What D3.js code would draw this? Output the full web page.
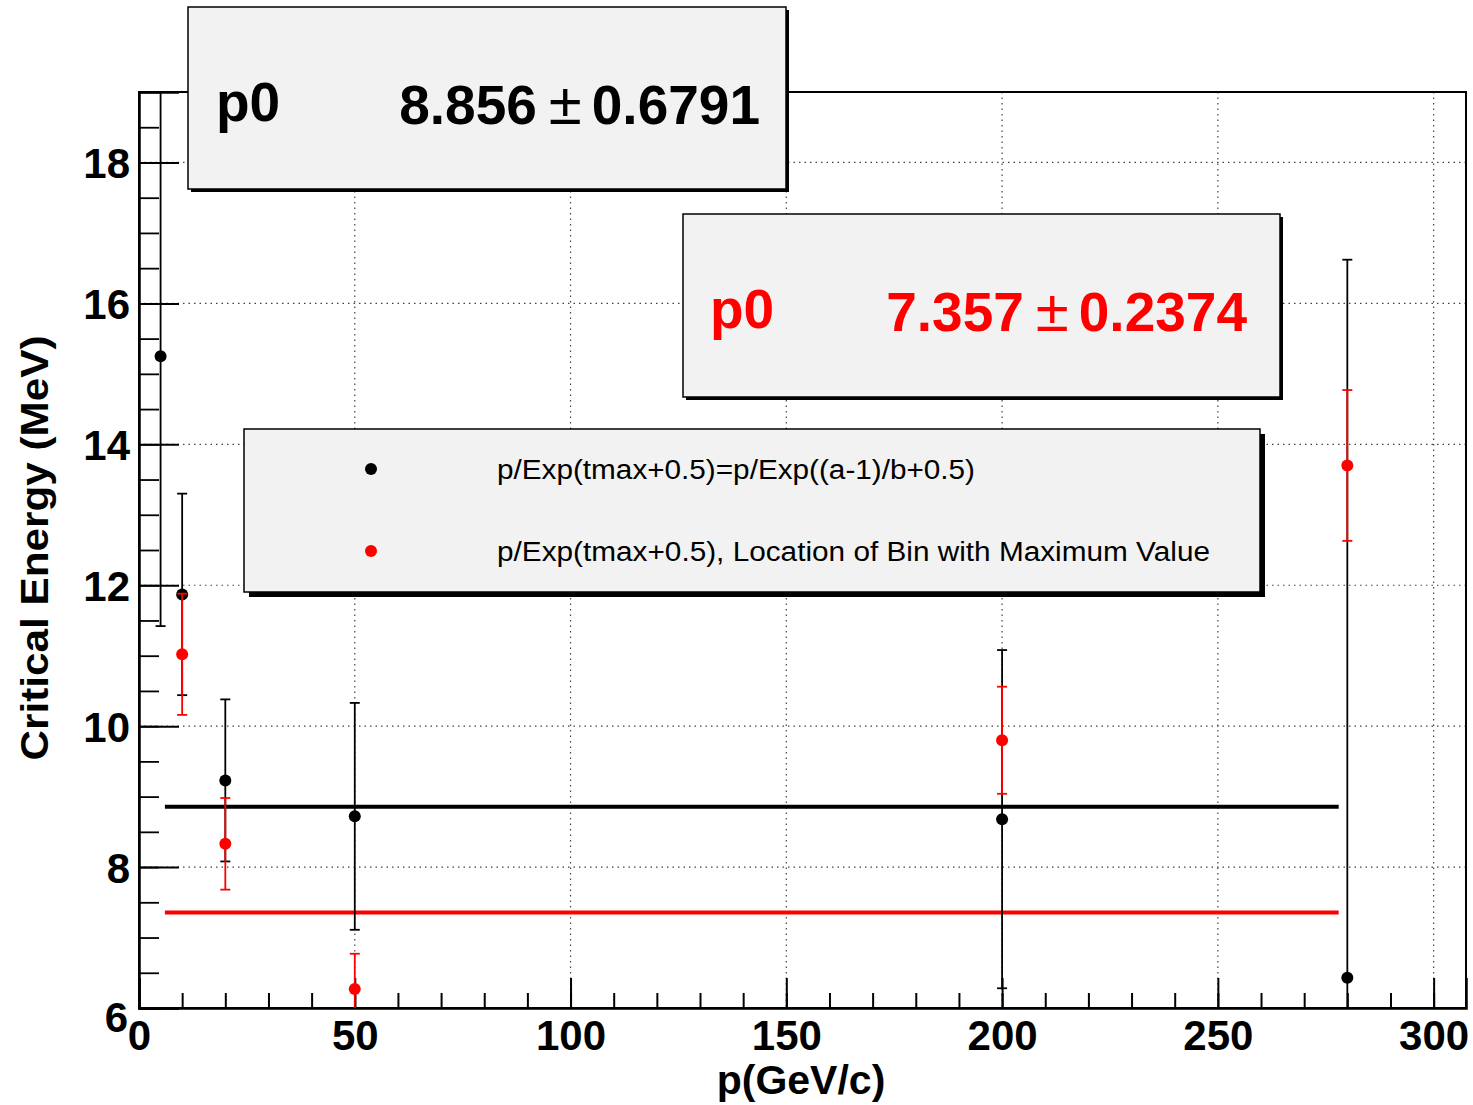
<!DOCTYPE html>
<html><head><meta charset="utf-8">
<script src="https://cdn.jsdelivr.net/npm/d3@7"></script>
<style>
body{margin:0;background:#fff;}
svg{display:block;}
</style></head>
<body>
<script>
// ---- data ----
const blackX   = [5, 10, 20, 50, 200, 280];
const blackY   = [15.25, 11.87, 9.23, 8.72, 8.68, 6.43];
const blackErr = [3.83, 1.43, 1.15, 1.61, 2.40, 10.19];
const redX     = [10, 20, 50, 200, 280];
const redY     = [11.02, 8.33, 6.27, 9.80, 13.70];
const redErr   = [0.86, 0.65, 0.50, 0.76, 1.07];
const fitBlack = 8.856, fitBlackErr = 0.6791;
const fitRed   = 7.357, fitRedErr = 0.2374;
const fitRange = [6, 278];
const xMajorTicks = [0, 50, 100, 150, 200, 250, 300];
const yMajorTicks = [6, 8, 10, 12, 14, 16, 18];
const legendLabels = ["p/Exp(tmax+0.5)=p/Exp((a-1)/b+0.5)",
                      "p/Exp(tmax+0.5), Location of Bin with Maximum Value"];
const xTitle = "p(GeV/c)";
const yTitle = "Critical Energy (MeV)";

const W = 1473, H = 1105;
const F = {l:139, r:1466, t:92, b:1008};
const x = d3.scaleLinear().domain([0, 307.5]).range([F.l, F.r]);
const y = d3.scaleLinear().domain([6, 19]).range([F.b, F.t]);

const svg = d3.select("body").append("svg").attr("width", W).attr("height", H)
  .style("font-family", "'Liberation Sans', Arial, Helvetica, sans-serif");

svg.append("defs").append("clipPath").attr("id","frame")
  .append("rect").attr("x",F.l).attr("y",F.t).attr("width",F.r-F.l).attr("height",F.b-F.t);

// grid
const grid = svg.append("g").attr("stroke","#444").attr("stroke-width",1.2).attr("stroke-dasharray","1.5,4");
grid.selectAll(".gx").data(xMajorTicks.filter(d=>d>0)).join("line")
  .attr("x1",d=>x(d)).attr("x2",d=>x(d)).attr("y1",F.t).attr("y2",F.b);
grid.selectAll(".gy").data(yMajorTicks.filter(d=>d>6)).join("line")
  .attr("y1",d=>y(d)).attr("y2",d=>y(d)).attr("x1",F.l).attr("x2",F.r);

// frame
svg.append("rect").attr("x",F.l).attr("y",F.t).attr("width",F.r-F.l).attr("height",F.b-F.t)
  .attr("fill","none").attr("stroke","#000").attr("stroke-width",2);

// axes
const xMinor = d3.range(0, 307.5, 10);
const yMinor = d3.range(6, 19.01, 0.5);
svg.append("g").attr("transform",`translate(0,${F.b})`)
  .call(d3.axisBottom(x).tickValues(xMinor).tickSize(-15).tickFormat(""))
  .call(g=>g.select(".domain").remove())
  .selectAll("line").attr("stroke-width",2);
const xa = svg.append("g").attr("transform",`translate(0,${F.b})`)
  .call(d3.axisBottom(x).tickValues(xMajorTicks).tickSize(-30).tickPadding(12).tickFormat(d3.format("d")));
xa.select(".domain").attr("stroke-width",2.5);
xa.selectAll("line").attr("stroke-width",2);
xa.selectAll("text").attr("font-size",42).attr("font-weight","bold").attr("fill","#000")
  .attr("font-family","'Liberation Sans', Arial, sans-serif");

svg.append("g").attr("transform",`translate(${F.l},0)`)
  .call(d3.axisLeft(y).tickValues(yMinor).tickSize(-20).tickFormat(""))
  .call(g=>g.select(".domain").remove())
  .selectAll("line").attr("stroke-width",1.8);
const ya = svg.append("g").attr("transform",`translate(${F.l},0)`)
  .call(d3.axisLeft(y).tickValues(yMajorTicks).tickSize(-40).tickPadding(9).tickFormat(d3.format("d")));
ya.select(".domain").attr("stroke-width",2.5);
ya.selectAll("line").attr("stroke-width",2);
ya.selectAll("text").attr("font-size",42).attr("font-weight","bold").attr("fill","#000")
  .attr("font-family","'Liberation Sans', Arial, sans-serif")
  .attr("dy", d => d===6 ? "0.55em" : "0.36em").attr("x", d => d===6 ? -11 : -9);

// titles
svg.append("text").attr("x",801).attr("y",1094).attr("text-anchor","middle")
  .attr("font-size",41).attr("font-weight","bold").text(xTitle);
svg.append("text").attr("transform","translate(48,548) rotate(-90)").attr("text-anchor","middle")
  .attr("font-size",39).attr("font-weight","bold").attr("textLength",425).attr("lengthAdjust","spacingAndGlyphs").text(yTitle);

// data layer (clipped)
const plot = svg.append("g").attr("clip-path","url(#frame)");

// fit lines
plot.append("line").attr("x1",x(fitRange[0])).attr("x2",x(fitRange[1]))
  .attr("y1",y(fitBlack)).attr("y2",y(fitBlack)).attr("stroke","#000").attr("stroke-width",4);
plot.append("line").attr("x1",x(fitRange[0])).attr("x2",x(fitRange[1]))
  .attr("y1",y(fitRed)).attr("y2",y(fitRed)).attr("stroke","#ff0000").attr("stroke-width",4);

function drawSeries(xs, ys, es, color, r){
  const d = xs.map((v,i)=>({x:v,y:ys[i],e:es[i]}));
  const g = plot.append("g").attr("stroke",color).attr("stroke-width",1.8);
  g.selectAll(".bar").data(d).join("line")
    .attr("x1",p=>x(p.x)).attr("x2",p=>x(p.x)).attr("y1",p=>y(p.y+p.e)).attr("y2",p=>y(p.y-p.e));
  g.selectAll(".capT").data(d).join("line")
    .attr("x1",p=>x(p.x)-5).attr("x2",p=>x(p.x)+5).attr("y1",p=>y(p.y+p.e)).attr("y2",p=>y(p.y+p.e));
  g.selectAll(".capB").data(d).join("line")
    .attr("x1",p=>x(p.x)-5).attr("x2",p=>x(p.x)+5).attr("y1",p=>y(p.y-p.e)).attr("y2",p=>y(p.y-p.e));
  plot.append("g").selectAll("circle").data(d).join("circle")
    .attr("cx",p=>x(p.x)).attr("cy",p=>y(p.y)).attr("r",r).attr("fill",color);
}
drawSeries(blackX, blackY, blackErr, "#000", 6);
drawSeries(redX, redY, redErr, "#ff0000", 6);

// boxes
function pave(x1,y1,x2,y2,sh){
  svg.append("rect").attr("x",x1+sh).attr("y",y1+sh).attr("width",x2-x1).attr("height",y2-y1).attr("fill","#000");
  svg.append("rect").attr("x",x1).attr("y",y1).attr("width",x2-x1).attr("height",y2-y1)
    .attr("fill","#f2f2f2").attr("stroke","#000").attr("stroke-width",1.5);
}
function statText(xL, xR, yB, val, err, color){
  svg.append("text").attr("x",xL).attr("y",yB-3).attr("font-size",55).attr("font-weight","bold")
    .attr("fill",color).text("p0");
  const t = svg.append("text").attr("x",xR).attr("y",yB).attr("font-size",55).attr("font-weight","bold")
    .attr("fill",color).attr("text-anchor","end");
  t.append("tspan").text(`${val}`);
  t.append("tspan").attr("font-weight","normal").attr("font-size",60).attr("dx",12).text("±");
  t.append("tspan").attr("dx",10).text(`${err}`);
}
pave(188,7,786,189,3);
statText(216, 760, 124, fitBlack, fitBlackErr, "#000");
pave(683,214,1280,397,3);
statText(710, 1247, 331, fitRed, fitRedErr, "#ff0000");

pave(244,429,1260,592,5);
const legColors = ["#000","#ff0000"];
const legY = [469, 551];
const legLen = [478, 713];
legendLabels.forEach((t,i)=>{
  svg.append("circle").attr("cx",371).attr("cy",legY[i]).attr("r",6).attr("fill",legColors[i]);
  svg.append("text").attr("x",497).attr("y",legY[i]).attr("dy","0.36em").attr("font-size",27)
    .attr("textLength",legLen[i]).attr("lengthAdjust","spacingAndGlyphs").text(t);
});
</script>
</body></html>
